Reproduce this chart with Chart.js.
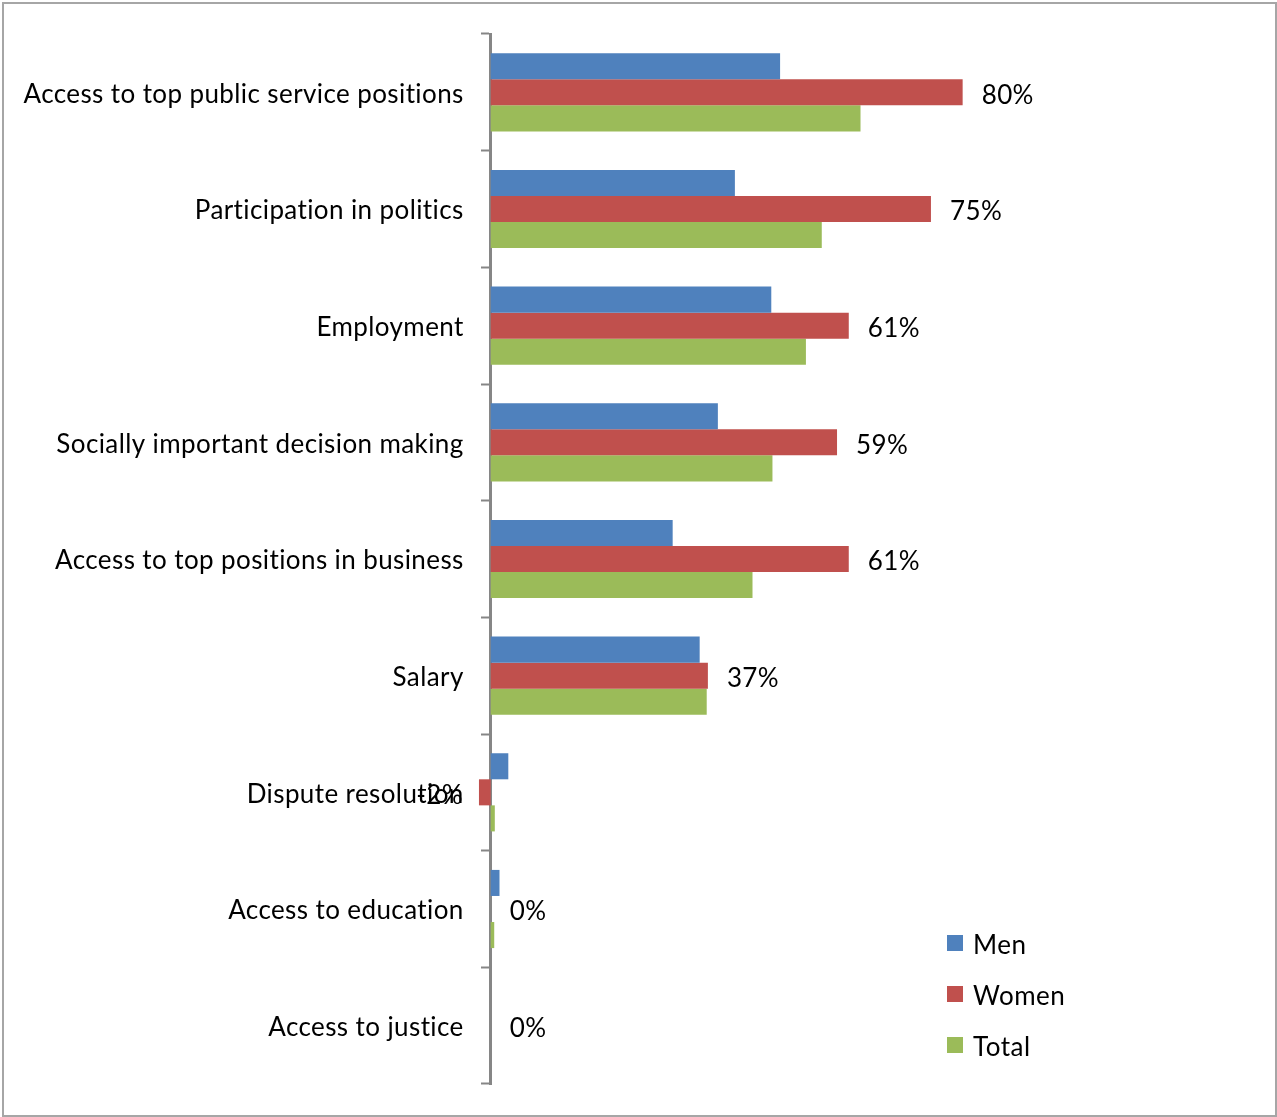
<!DOCTYPE html>
<html>
<head>
<meta charset="utf-8">
<script src="https://cdn.jsdelivr.net/npm/chart.js@4.4.1/dist/chart.umd.min.js"></script>
<style>
  html, body { margin: 0; padding: 0; background: #fff; }
  #wrap { position: relative; width: 1277px; height: 1117px; }
  #frame { position: absolute; left: 2px; top: 2px; width: 1271px; height: 1111px; border: 2px solid #a6a6a6; box-sizing: content-box; pointer-events: none; }
</style>
</head>
<body>
<div id="wrap">
  <canvas id="genderChart" width="1277" height="1117"></canvas>
  <div id="frame"></div>
</div>
<script>
// Survey areas (top to bottom) and percentage values per group
const categories = [
    'Access to top public service positions',
    'Participation in politics',
    'Employment',
    'Socially important decision making',
    'Access to top positions in business',
    'Salary',
    'Dispute resolution',
    'Access to education',
    'Access to justice'
];
const menValues   = [49.3, 41.6, 47.8, 38.7, 31, 35.6, 3, 1.5, 0];
const womenValues = [80.4, 75, 61, 59, 61, 37, -2, 0, 0];
const totalValues = [63, 56.4, 53.7, 48, 44.6, 36.8, 0.7, 0.6, 0];
const seriesNames = ['Men', 'Women', 'Total'];
const seriesColors = ['#4F81BD', '#C0504D', '#9BBB59'];

const FONT = 'Lato';

// category names drawn left of the zero axis (Chart.js ignores padding for a centred axis)
const categoryNames = {
    id: 'categoryNames',
    afterDraw(chart) {
        const ctx = chart.ctx;
        const y = chart.scales.y;
        const x0 = chart.scales.x.getPixelForValue(0);
        ctx.save();
        ctx.font = '26px ' + FONT;
        ctx.letterSpacing = '0.4px';
        ctx.fillStyle = '#000';
        ctx.textAlign = 'right';
        ctx.textBaseline = 'middle';
        categories.forEach((name, i) => {
            ctx.fillText(name, x0 - 27, y.getPixelForTick(i) + 2);
        });
        ctx.restore();
    }
};

// value labels only on the Women series, like the original
const womenLabels = {
    id: 'womenLabels',
    afterDatasetsDraw(chart) {
        const ctx = chart.ctx;
        const meta = chart.getDatasetMeta(1);
        ctx.save();
        ctx.font = '26px ' + FONT;
        ctx.letterSpacing = '0.4px';
        ctx.fillStyle = '#000';
        ctx.textBaseline = 'middle';
        meta.data.forEach((bar, i) => {
            const v = womenValues[i];
            const txt = Math.round(v) + '%';
            if (v < 0) {
                ctx.textAlign = 'right';
                ctx.fillText(txt, bar.x - 16, bar.y + 3);
            } else {
                ctx.textAlign = 'left';
                ctx.fillText(txt, bar.x + 19, bar.y + 3);
            }
        });
        ctx.restore();
    }
};

// legend box in the lower right corner
const cornerLegend = {
    id: 'cornerLegend',
    afterDraw(chart) {
        const ctx = chart.ctx;
        ctx.save();
        ctx.font = '26px ' + FONT;
        ctx.letterSpacing = '0.5px';
        ctx.textBaseline = 'middle';
        ctx.textAlign = 'left';
        chart.data.datasets.forEach((ds, i) => {
            const y = 943 + i * 51;
            ctx.fillStyle = ds.backgroundColor;
            ctx.fillRect(947, y - 8, 16, 16);
            ctx.fillStyle = '#000';
            ctx.fillText(ds.label, 973, y + 3);
        });
        ctx.restore();
    }
};

const ctx = document.getElementById('genderChart');
new Chart(ctx, {
    type: 'bar',
    data: {
        labels: categories,
        datasets: [
            { label: seriesNames[0], data: menValues,   backgroundColor: seriesColors[0] },
            { label: seriesNames[1], data: womenValues, backgroundColor: seriesColors[1] },
            { label: seriesNames[2], data: totalValues, backgroundColor: seriesColors[2] }
        ]
    },
    options: {
        indexAxis: 'y',
        responsive: false,
        animation: false,
        layout: { padding: { left: 432, right: 258, top: 34, bottom: 33 } },
        datasets: {
            bar: { categoryPercentage: 0.67, barPercentage: 1.0, borderWidth: 0 }
        },
        plugins: {
            legend: { display: false },
            tooltip: { enabled: false }
        },
        scales: {
            x: {
                display: false,
                min: -10,
                max: 90
            },
            y: {
                position: { x: 0 },
                grid: {
                    drawOnChartArea: false,
                    drawTicks: true,
                    tickLength: 8,
                    tickWidth: 2,
                    tickColor: '#868686',
                    offset: true
                },
                border: { display: true, color: '#868686', width: 3 },
                ticks: { display: false }
            }
        }
    },
    plugins: [categoryNames, womenLabels, cornerLegend]
});
</script>
</body>
</html>
